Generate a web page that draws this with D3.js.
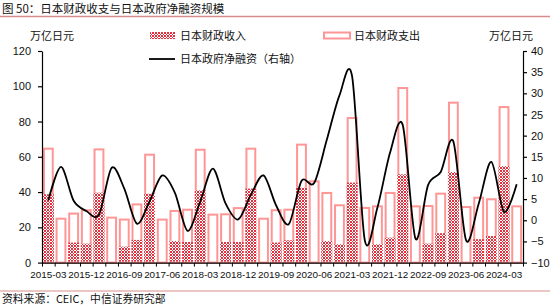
<!DOCTYPE html>
<html><head><meta charset="utf-8">
<script src="https://cdn.jsdelivr.net/npm/d3@7/dist/d3.min.js"></script>
<style>
html,body{margin:0;padding:0;background:#fff;}
svg{display:block;}
text{font-family:"Liberation Sans","Noto Sans CJK SC",Arial,sans-serif;fill:#111;}
.cjk{font-family:"Noto Sans CJK SC","Liberation Sans",sans-serif;}
</style></head>
<body>
<script>
const quarters = ["2015-03","2015-06","2015-09","2015-12","2016-03","2016-06","2016-09","2016-12",
"2017-03","2017-06","2017-09","2017-12","2018-03","2018-06","2018-09","2018-12",
"2019-03","2019-06","2019-09","2019-12","2020-03","2020-06","2020-09","2020-12",
"2021-03","2021-06","2021-09","2021-12","2022-03","2022-06","2022-09","2022-12",
"2023-03","2023-06","2023-09","2023-12","2024-03","2024-06"];
const income = [38.2,0,10.8,10.2,39.1,0,8.5,12.3,38.5,0,11.7,11.1,40.4,0,11.1,11.1,41.4,0,10.8,12.1,
41.9,0,11.7,9.8,44.8,0,9.8,13.6,49.5,0,10.2,16.1,50.8,0,12.7,14.5,54.2,0];
const expenditure = [64.6,24.9,27.8,29.7,64.2,25.5,24.4,33.0,61.2,24.4,29.3,30.0,64.0,27.2,27.4,30.9,
64.6,24.9,29.7,30.0,66.9,46.1,39.5,32.5,82.0,31.0,31.9,39.5,99.0,31.9,32.1,39.1,90.7,31.5,36.8,35.9,88.2,31.9];
const netFinancing = [4.7,12.6,4.6,2.2,1.3,12.4,7.5,-0.8,4.5,10.6,6.5,-2.5,4.4,12.2,4.0,0.2,6.0,10.6,3.5,-0.9,
9.3,8.8,19.0,29.5,34.0,-4.7,3.0,16.0,22.5,-4.3,8.3,11.4,18.6,-4.7,3.9,13.8,2.0,8.5];
const leftTicks = [0,20,40,60,80,100,120];
const rightTicks = [-10,-5,0,5,10,15,20,25,30,35,40];
const labelEvery = 3;

const W = 550, H = 306;
const X0 = 42, X1 = 523, YT = 51, YB = 262.6;
const svg = d3.select("body").append("svg").attr("width", W).attr("height", H);

const defs = svg.append("defs");
const pat = defs.append("pattern").attr("id","hatch").attr("width",3).attr("height",3)
  .attr("patternUnits","userSpaceOnUse");
pat.append("rect").attr("width",3).attr("height",3).attr("fill","#fff");
pat.append("path").attr("d","M0,0L3,3M3,0L0,3").attr("stroke","#E2323F").attr("stroke-width",1);

// title
svg.append("text").attr("class","cjk").attr("x",2).attr("y",13).attr("font-size",11.5)
  .text("图 50：日本财政收支与日本政府净融资规模");
svg.append("line").attr("x1",0).attr("x2",W).attr("y1",16.5).attr("y2",16.5)
  .attr("stroke","#D98B8C").attr("stroke-width",1.4);
// source
svg.append("line").attr("x1",0).attr("x2",W).attr("y1",291).attr("y2",291)
  .attr("stroke","#D98B8C").attr("stroke-width",1.2);
svg.append("text").attr("class","cjk").attr("x",2).attr("y",302.5).attr("font-size",10.8)
  .text("资料来源：CEIC，中信证券研究部");

const x = d3.scaleBand().domain(quarters).range([X0, X1]).paddingInner(0.3).paddingOuter(0.15);
const yL = d3.scaleLinear().domain([0,120]).range([YB, YT]);
const yR = d3.scaleLinear().domain([-10,40]).range([YB, YT]);
const bw = x.bandwidth();

// expenditure bars (outline)
svg.append("g").selectAll("rect").data(quarters).join("rect")
  .attr("x", q => x(q)).attr("width", bw)
  .attr("y", (q,i) => yL(expenditure[i])).attr("height", (q,i) => yL(0) - yL(expenditure[i]))
  .attr("fill","#fff").attr("stroke","#FF9696").attr("stroke-width",2);
// income bars (hatched)
svg.append("g").selectAll("rect").data(quarters).join("rect")
  .attr("x", q => x(q) - 1).attr("width", bw + 2)
  .attr("y", (q,i) => yL(income[i]) - 1).attr("height", (q,i) => Math.max(0, yL(0) - yL(income[i])))
  .attr("fill","url(#hatch)")
  .attr("display", (q,i) => income[i] > 0 ? null : "none");

// line
const line = d3.line().x((d,i) => x(quarters[i]) + bw/2).y(d => yR(d)).curve(d3.curveCardinal.tension(0.1));
svg.append("path").datum(netFinancing).attr("d", line).attr("fill","none")
  .attr("stroke","#000").attr("stroke-width",1.8);

// axes
const axL = svg.append("g").attr("transform",`translate(${X0},0)`)
  .call(d3.axisLeft(yL).tickValues(leftTicks).tickSize(4).tickSizeOuter(0).tickPadding(7));
const axR = svg.append("g").attr("transform",`translate(${X1},0)`)
  .call(d3.axisRight(yR).tickValues(rightTicks).tickSize(4).tickSizeOuter(0).tickPadding(4));
[axL, axR].forEach(a => {
  a.selectAll("text").attr("font-size",11).attr("fill","#111");
  a.select(".domain").attr("stroke","#000").attr("stroke-width",1.2);
  a.selectAll(".tick line").attr("stroke","#000").attr("stroke-width",1.2);
});

// x axis: boundary ticks + labels
const bnd = d3.scaleLinear().domain([0, quarters.length]).range([X0, X1]);
const axB = svg.append("g").attr("transform",`translate(0,${YB})`)
  .call(d3.axisBottom(bnd).tickValues(d3.range(0, quarters.length + 1)).tickSize(4).tickSizeOuter(0).tickFormat(""));
axB.select(".domain").attr("stroke","#000").attr("stroke-width",1.2);
axB.selectAll(".tick line").attr("stroke","#000").attr("stroke-width",1);
const axLab = svg.append("g").attr("transform",`translate(0,${YB})`)
  .call(d3.axisBottom(x).tickValues(quarters.filter((q,i) => i % labelEvery === 0)).tickSize(0).tickPadding(8));
axLab.select(".domain").remove();
axLab.selectAll("text").attr("font-size",9.9).attr("fill","#111");

// unit labels
svg.append("text").attr("class","cjk").attr("x",30).attr("y",40).attr("font-size",11).text("万亿日元");
svg.append("text").attr("class","cjk").attr("x",489).attr("y",40).attr("font-size",11).text("万亿日元");

// legend
const lg = svg.append("g");
lg.append("rect").attr("x",150).attr("y",32).attr("width",25).attr("height",7).attr("fill","url(#hatch)");
lg.append("text").attr("class","cjk").attr("x",180).attr("y",40).attr("font-size",11).text("日本财政收入");
lg.append("rect").attr("x",324).attr("y",32.5).attr("width",26).attr("height",6)
  .attr("fill","#fff").attr("stroke","#FF9696").attr("stroke-width",2);
lg.append("text").attr("class","cjk").attr("x",354).attr("y",40).attr("font-size",11).text("日本财政支出");
lg.append("line").attr("x1",149).attr("x2",175).attr("y1",59).attr("y2",59).attr("stroke","#000").attr("stroke-width",1.8);
lg.append("text").attr("class","cjk").attr("x",180).attr("y",63).attr("font-size",11).text("日本政府净融资（右轴）");
</script>
</body></html>
